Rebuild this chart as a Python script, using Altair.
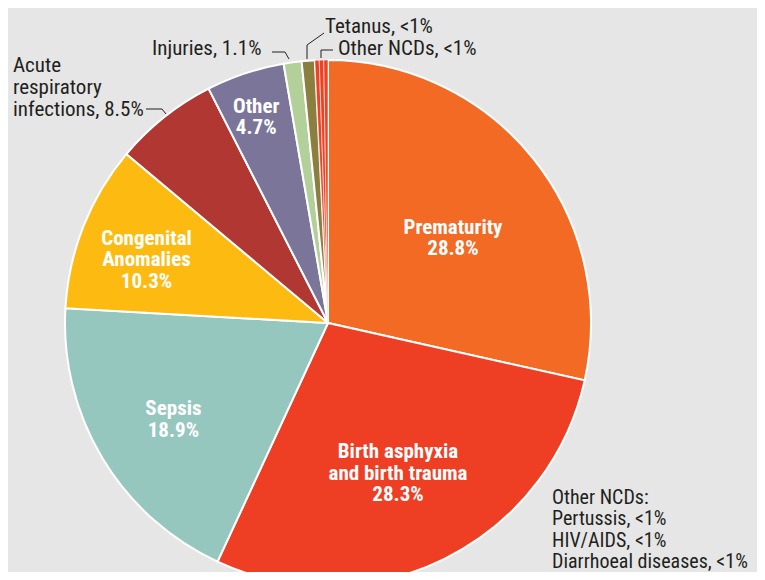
import altair as alt
import pandas as pd

# ---- data (slice sizes, labels as printed) ----
causes = ["Prematurity", "Birth asphyxia and birth trauma", "Sepsis",
          "Congenital Anomalies", "Acute respiratory infections", "Other",
          "Injuries", "Tetanus", "Pertussis", "HIV/AIDS", "Diarrhoeal diseases"]
shares = [28.5, 28.4, 19.0, 10.2, 6.4, 4.8, 1.1, 0.8, 0.27, 0.27, 0.26]
pct_text = ["28.8%", "28.3%", "18.9%", "10.3%", "8.5%", "4.7%", "1.1%",
            "<1%", "<1%", "<1%", "<1%"]
inside_names = ["Prematurity", "Birth asphyxia\nand birth trauma", "Sepsis",
                "Congenital\nAnomalies", "", "Other", "", "", "", "", ""]
colors = ["#F26A24", "#EE3F24", "#96C7BF", "#FDBB12", "#B03732", "#7B7599",
          "#B3D09A", "#8B7F3F", "#EF4123", "#EF4123", "#EF4123"]

# ---- layout constants ----
FONT = "'Roboto Condensed', 'DejaVu Sans Condensed', 'Liberation Sans Narrow', sans-serif"
INK = "#231F20"
BG = "#E6E6E6"
CX, CY, R = 320, 315, 263
# radius of the first text line of each inside label, and a small angular nudge
label_radius = {"Prematurity": 157, "Birth asphyxia and birth trauma": 147,
                "Sepsis": 177, "Congenital Anomalies": 200, "Other": 228}
label_nudge = {"Prematurity": 0.4, "Birth asphyxia and birth trauma": -0.6,
               "Sepsis": 0.5, "Congenital Anomalies": 0.9, "Other": 0.0}

df = pd.DataFrame({
    "idx": list(range(len(causes))),
    "cause": causes,
    "share": shares,
    "inside": [f"{n}\n{p}" if n else "" for n, p in zip(inside_names, pct_text)],
    "r": [label_radius.get(c, 0) for c in causes],
    "nudge": [label_nudge.get(c, 0.0) for c in causes],
})

base = alt.Chart(df)

pie = base.mark_arc(radius=R, stroke="white").encode(
    theta=alt.Theta("share:Q", stack=True),
    order=alt.Order("idx:Q", sort="ascending"),
    color=alt.Color("cause:N", scale=alt.Scale(domain=causes, range=colors), legend=None),
    strokeWidth=alt.condition(alt.FieldOneOfPredicate(field="cause", oneOf=causes[8:]),
                              alt.value(0.6), alt.value(2)),
    x=alt.value(CX), y=alt.value(CY),
)

inner = base.transform_stack(
    stack="share", as_=["s0", "s1"], groupby=[],
    sort=[alt.SortField("idx", order="ascending")],
).transform_calculate(
    mid="(datum.s0 + datum.s1) / 2 + datum.nudge"
).mark_text(font=FONT, fontSize=21, fontWeight="bold", color="white",
            lineBreak="\n", lineHeight=21.5, align="center",
            baseline="middle").encode(
    theta=alt.Theta("mid:Q", stack=None),
    radius=alt.Radius("r:Q", scale=None),
    text="inside:N",
    x=alt.value(CX), y=alt.value(CY),
)

outer_labels = [
    ("Tetanus, <1%", 317, 25, 21, 21.9),
    ("Injuries, 1.1%", 144, 47, 21, 21.9),
    ("Other NCDs, <1%", 330, 47, 21, 21.9),
    ("Acute\nrespiratory\ninfections, 8.5%", 5, 64, 21, 21.9),
    ("Other NCDs:\nPertussis, <1%\nHIV/AIDS, <1%\nDiarrhoeal diseases, <1%", 544, 496, 20, 21.3),
]
outer = [
    alt.Chart(pd.DataFrame({"t": [t]})).mark_text(
        font=FONT, fontSize=fs, color=INK, lineBreak="\n", lineHeight=lh,
        align="left", baseline="alphabetic").encode(
        text="t:N", x=alt.value(x), y=alt.value(y))
    for t, x, y, fs, lh in outer_labels
]

leaders = [
    (138, 101, 154, 101), (154, 101, 158, 106),
    (264, 44, 277, 44), (277, 44, 281, 51),
    (316, 25, 299, 37), (299, 37, 299, 51),
    (325, 42, 313, 42), (313, 42, 313, 50),
]
rules = [
    alt.Chart(pd.DataFrame({"k": [0]})).mark_rule(color=INK, strokeWidth=1).encode(
        x=alt.value(x1), y=alt.value(y1), x2=alt.value(x2), y2=alt.value(y2))
    for x1, y1, x2, y2 in leaders
]

chart = alt.layer(pie, inner, *outer, *rules).properties(
    width=749, height=564, background=BG, padding=0, autosize="none"
).configure_view(stroke=None)

chart.save("out.html", embed_options={"renderer": "svg", "actions": False})
